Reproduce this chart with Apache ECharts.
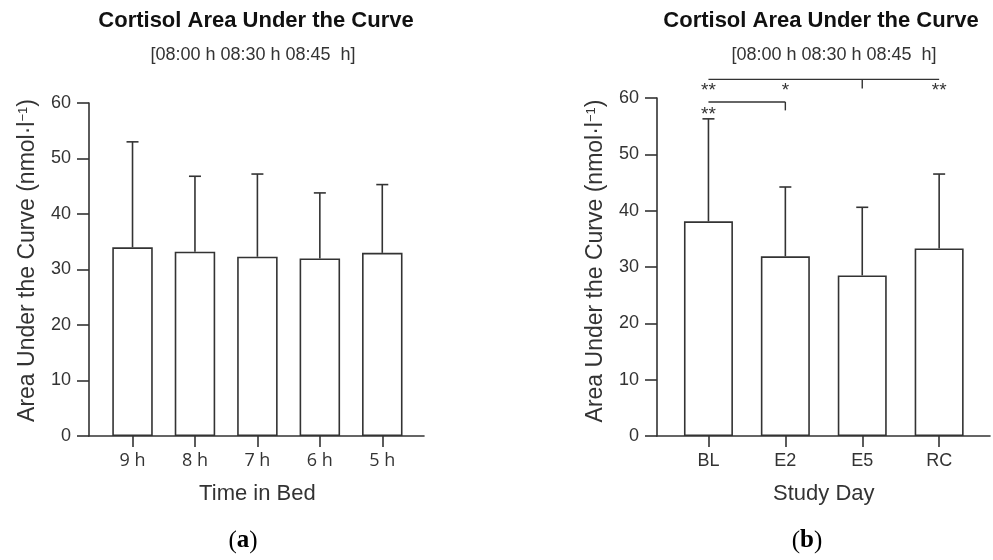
<!DOCTYPE html>
<html>
<head>
	<meta charset="utf-8" />
	<title>Cortisol Area Under the Curve</title>
	<script src="https://cdn.jsdelivr.net/npm/echarts@6/dist/echarts.min.js"></script>
	<style>html,body{margin:0;padding:0;background:#fff;}</style>
</head>
<body>
	<div id="main" style="width: 993px;height: 560px;"></div>

	<script type="text/javascript">
		// panel a: time in bed
		var bedCats = ['9 h', '8 h', '7 h', '6 h', '5 h'];
		var bedMean = [34.0, 33.2, 32.3, 32.0, 33.0];
		var bedSd = [19.0, 13.6, 14.9, 11.8, 12.3];

		// panel b: study day
		var dayCats = ['BL', 'E2', 'E5', 'RC'];
		var dayMean = [38.1, 31.9, 28.5, 33.3];
		var daySd = [18.2, 12.3, 12.1, 13.2];

		// significance brackets on panel b: [from, to, y, tickAt, tickEnd]
		var sigLines = [[0, 3, 63.3, 2, 61.7], [0, 1, 59.3, 1, 57.8]];
		// stars: [category, y, text]  (y = text anchor)
		var sigStars = [[0, 61.2, '**'], [1, 61.2, '*'], [3, 61.2, '**'], [0, 57.1, '**']];

		var INK = '#333';
		var SANS = '"Liberation Sans", Arial, sans-serif';

		var myChart = echarts.init(document.getElementById('main'));

		function errorBars(params, api) {
			var lo = api.coord([api.value(0), api.value(1)]);
			var hi = api.coord([api.value(0), api.value(1) + api.value(2)]);
			var st = {stroke: INK, lineWidth: 1.6};
			return {type: 'group', children: [
				{type: 'line', shape: {x1: lo[0], y1: lo[1], x2: hi[0], y2: hi[1]}, style: st},
				{type: 'line', shape: {x1: hi[0] - 6, y1: hi[1], x2: hi[0] + 6, y2: hi[1]}, style: st}
			]};
		}

		function brackets(params, api) {
			var a = api.coord([api.value(0), api.value(2)]);
			var b = api.coord([api.value(1), api.value(2)]);
			var t = api.coord([api.value(3), api.value(2)]);
			var te = api.coord([api.value(3), api.value(4)]);
			var st = {stroke: INK, lineWidth: 1.4};
			return {type: 'group', children: [
				{type: 'line', shape: {x1: a[0], y1: a[1], x2: b[0], y2: b[1]}, style: st},
				{type: 'line', shape: {x1: t[0], y1: t[1], x2: te[0], y2: te[1]}, style: st}
			]};
		}

		function stars(params, api) {
			var p = api.coord([api.value(0), api.value(1)]);
			return {type: 'text', x: p[0], y: p[1], style: {
				text: sigStars[params.dataIndex][2], fill: INK,
				font: '19px ' + SANS, align: 'center', verticalAlign: 'middle'
			}};
		}

		function frameAxes(grid, name, shift) {
			return {
				x: {gridIndex: grid, type: 'value', min: 0, max: 1,
					axisLine: {show: true, lineStyle: {color: INK, width: 1.6}},
					axisTick: {show: false}, axisLabel: {show: false}, splitLine: {show: false}},
				y: {gridIndex: grid, type: 'value', min: 0, max: 60, interval: 10,
					axisLine: {show: true, lineStyle: {color: INK, width: 1.6}},
					axisTick: {show: true, length: 12, lineStyle: {color: INK, width: 1.6}},
					axisLabel: {margin: 18, color: INK, fontSize: 18, fontFamily: SANS},
					splitLine: {show: false},
					name: name, nameLocation: 'middle', nameGap: 50,
					nameTextStyle: {color: INK, fontSize: 23, fontFamily: SANS, padding: [0, 0, 0, shift],
						rich: {s: {fontSize: 13, fontFamily: SANS, color: INK, padding: [0, 0, 9, 0]}}}}
			};
		}

		function catAxes(grid, cats, name, font) {
			return {
				x: {gridIndex: grid, type: 'category', data: cats,
					axisLine: {show: false},
					axisTick: {show: true, alignWithLabel: true, length: 11, lineStyle: {color: INK, width: 1.6}},
					axisLabel: {margin: 16, color: INK, fontSize: 18, fontFamily: font},
					name: name, nameLocation: 'middle', nameGap: 47,
					nameTextStyle: {color: INK, fontSize: 22, fontFamily: SANS}},
				y: {gridIndex: grid, type: 'value', min: 0, max: 60, show: false}
			};
		}

		var yName = 'Area Under the Curve (nmol·l{s|−1})';
		var fa = frameAxes(0, yName, 18), ca = catAxes(1, bedCats, 'Time in Bed', '"Open Sans", sans-serif');
		var fb = frameAxes(2, yName, 12), cb = catAxes(3, dayCats, 'Study Day', SANS);

		function headline(x, txt) {
			return {type: 'text', x: x, y: 21, style: {text: txt, fill: '#111',
				font: 'bold 22px ' + SANS, align: 'center', verticalAlign: 'middle'}};
		}
		function subline(x) {
			return {type: 'text', x: x, y: 55, style: {text: '[08:00 h 08:30 h 08:45  h]', fill: INK,
				font: '18px ' + SANS, align: 'center', verticalAlign: 'middle'}};
		}
		function panelTag(x, letter) {
			return {type: 'text', x: x, y: 541, style: {text: '({b|' + letter + '})', fill: '#000',
				font: '25px "Liberation Serif", serif', align: 'center', verticalAlign: 'middle',
				rich: {b: {fontWeight: 'bold', fontSize: 25, fontFamily: '"Liberation Serif", serif'}}}};
		}

		var option = {
			backgroundColor: '#fff',
			animation: false,
			grid: [
				{left: 89, top: 103, width: 335, height: 333, outerBoundsMode: 'none'},
				{left: 101.3, top: 103, width: 312.2, height: 333, outerBoundsMode: 'none'},
				{left: 657, top: 98, width: 333, height: 338, outerBoundsMode: 'none'},
				{left: 670, top: 98, width: 307.6, height: 338, outerBoundsMode: 'none'}
			],
			xAxis: [fa.x, ca.x, fb.x, cb.x],
			yAxis: [fa.y, ca.y, fb.y, cb.y],
			graphic: [
				headline(256, 'Cortisol Area Under the Curve'),
				subline(253),
				headline(821, 'Cortisol Area Under the Curve'),
				subline(834),
				panelTag(243, 'a'),
				panelTag(807, 'b')
			],
			series: [
				{type: 'bar', xAxisIndex: 1, yAxisIndex: 1, data: bedMean, barWidth: 40.5,
					itemStyle: {color: '#fff', borderColor: INK, borderWidth: 1.6}, silent: true},
				{type: 'custom', xAxisIndex: 1, yAxisIndex: 1, clip: false, renderItem: errorBars,
					data: bedMean.map(function (m, i) { return [i, m, bedSd[i]]; })},
				{type: 'bar', xAxisIndex: 3, yAxisIndex: 3, data: dayMean, barWidth: 49,
					itemStyle: {color: '#fff', borderColor: INK, borderWidth: 1.6}, silent: true},
				{type: 'custom', xAxisIndex: 3, yAxisIndex: 3, clip: false, renderItem: errorBars,
					data: dayMean.map(function (m, i) { return [i, m, daySd[i]]; })},
				{type: 'custom', xAxisIndex: 3, yAxisIndex: 3, clip: false, renderItem: brackets, data: sigLines},
				{type: 'custom', xAxisIndex: 3, yAxisIndex: 3, clip: false, renderItem: stars,
					data: sigStars.map(function (s) { return [s[0], s[1]]; })}
			]
		};

		myChart.setOption(option);
	</script>
</body>
</html>
